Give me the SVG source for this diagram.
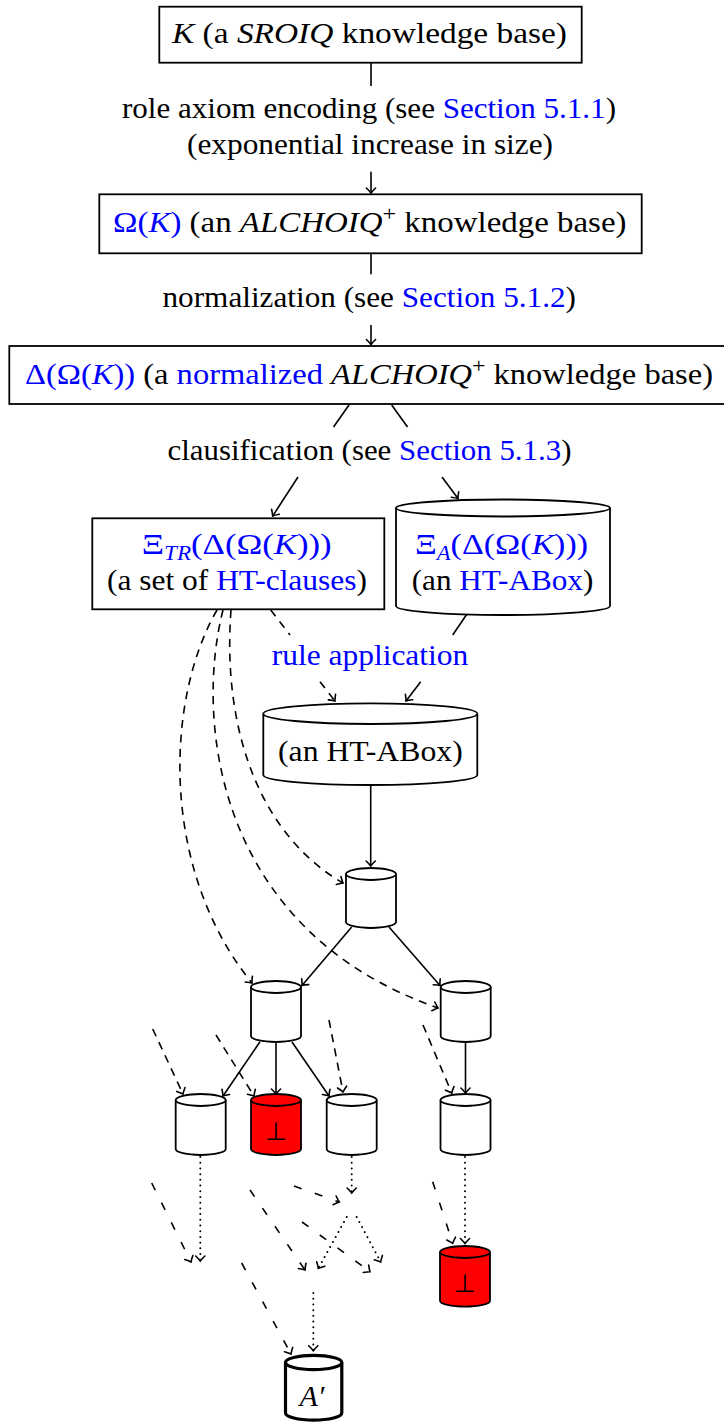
<svg xmlns="http://www.w3.org/2000/svg" width="724" height="1423" viewBox="0 0 724 1423">
<style>
.t{font-family:"Liberation Serif","Times New Roman",serif;font-size:30px;fill:#000}
.b{fill:#0000ff}
.i{font-style:italic}
.box{fill:#fff;stroke:#000;stroke-width:1.8}
.cyl{fill:#fff;stroke:#000;stroke-width:1.8}
.red{fill:#ff0000;stroke:#000;stroke-width:1.8}
.e{fill:none;stroke:#000;stroke-width:1.6}
.d{fill:none;stroke:#000;stroke-width:1.6;stroke-dasharray:8 6.5}
.ld{fill:none;stroke:#000;stroke-width:1.6;stroke-dasharray:8 14}
.o{fill:none;stroke:#000;stroke-width:2;stroke-dasharray:0.01 5.7;stroke-linecap:round}
.bot{font-family:"DejaVu Sans",sans-serif;font-size:25px;fill:#000}
</style>
<defs>
<marker id="ah" markerUnits="userSpaceOnUse" markerWidth="14" markerHeight="14" viewBox="-7 -7 14 14" refX="0" refY="0" orient="auto" overflow="visible">
<path d="M-5,-4.6 Q-1.7,-1.2 0,0 Q-1.7,1.2 -5,4.6" fill="none" stroke="#000" stroke-width="1.6" stroke-linecap="round" stroke-dasharray="none"/>
</marker>
</defs>

<g id="connectors">
<path class="e" d="M371,62.7 L371,86"/>
<path class="e" d="M371,171.7 L371,193" marker-end="url(#ah)"/>
<path class="e" d="M371,253.3 L371,274.3"/>
<path class="e" d="M371,325 L371,344.5" marker-end="url(#ah)"/>
<path class="e" d="M349,405 L333.5,427"/>
<path class="e" d="M298,477 L272.7,516" marker-end="url(#ah)"/>
<path class="e" d="M391.7,405 L407.5,427"/>
<path class="e" d="M442,477 L458,498.5" marker-end="url(#ah)"/>
<path class="d" d="M270.7,610 L290,635"/>
<path class="d" d="M320,681.7 L335,701" marker-end="url(#ah)"/>
<path class="e" d="M467,614 L452.7,635"/>
<path class="e" d="M420.7,681.7 L406,701" marker-end="url(#ah)"/>
<path class="e" d="M370.7,785 L370.7,866" marker-end="url(#ah)"/>
<path class="d" d="M217,610 C165,700 160,870 252,983" marker-end="url(#ah)"/>
<path class="d" d="M223,610 C195,720 215,930 438,1008" marker-end="url(#ah)"/>
<path class="d" d="M231,610 C222,730 260,835 343,883" marker-end="url(#ah)"/>
<path class="e" d="M351.7,927 L302,985.5" marker-end="url(#ah)"/>
<path class="e" d="M389,927 L440,985.5" marker-end="url(#ah)"/>
<path class="e" d="M260,1041.7 L223,1096" marker-end="url(#ah)"/>
<path class="e" d="M276,1042 L276,1094" marker-end="url(#ah)"/>
<path class="e" d="M292,1042 L329,1096" marker-end="url(#ah)"/>
<path class="e" d="M465.5,1042 L465.5,1093" marker-end="url(#ah)"/>
<path class="d" d="M152.7,1029 L183,1094" marker-end="url(#ah)"/>
<path class="d" d="M216,1035 L254,1096" marker-end="url(#ah)"/>
<path class="d" d="M329,1020 L343,1092" marker-end="url(#ah)"/>
<path class="d" d="M423,1025 L451.7,1093" marker-end="url(#ah)"/>
<path class="o" d="M200.3,1157 L200.3,1261" marker-end="url(#ah)"/>
<path class="ld" d="M151.7,1183 L191,1262" marker-end="url(#ah)"/>
<path class="o" d="M351.7,1157 L351.7,1193" marker-end="url(#ah)"/>
<path class="ld" d="M294,1186 L339.3,1202" marker-end="url(#ah)"/>
<path class="o" d="M346.7,1217 L318.3,1268.3" marker-end="url(#ah)"/>
<path class="o" d="M356.7,1217 L380.7,1262" marker-end="url(#ah)"/>
<path class="ld" d="M250,1190 L305,1270" marker-end="url(#ah)"/>
<path class="ld" d="M302,1222 L370,1271.7" marker-end="url(#ah)"/>
<path class="ld" d="M241.7,1263 L291,1354" marker-end="url(#ah)"/>
<path class="o" d="M313.3,1293 L313.3,1350.7" marker-end="url(#ah)"/>
<path class="o" d="M465,1157 L465,1243.5" marker-end="url(#ah)"/>
<path class="ld" d="M432.7,1181.7 L452.7,1243.3" marker-end="url(#ah)"/>
</g>

<g id="n-K">
<rect class="box" x="159.3" y="6.7" width="422.4" height="56"/>
<text class="t" x="172" y="43" textLength="395" lengthAdjust="spacingAndGlyphs"><tspan class="i">K</tspan> (a <tspan class="i">SROIQ</tspan> knowledge base)</text>
</g>

<g id="l-role">
<text class="t" x="122" y="118" textLength="494" lengthAdjust="spacingAndGlyphs">role axiom encoding (see <tspan class="b">Section 5.1.1</tspan>)</text>
<text class="t" x="187" y="153.5" textLength="366" lengthAdjust="spacingAndGlyphs">(exponential increase in size)</text>
</g>

<g id="n-Omega">
<rect class="box" x="99.3" y="194.3" width="542.4" height="59"/>
<text class="t" x="113" y="232" textLength="513.5" lengthAdjust="spacingAndGlyphs"><tspan class="b">Ω(<tspan class="i">K</tspan>)</tspan> (an <tspan class="i">ALCHOIQ</tspan><tspan dy="-11" font-size="22">+</tspan><tspan dy="11"> knowledge base)</tspan></text>
</g>

<g id="l-norm">
<text class="t" x="162.5" y="307" textLength="413.5" lengthAdjust="spacingAndGlyphs">normalization (see <tspan class="b">Section 5.1.2</tspan>)</text>
</g>

<g id="n-Delta">
<rect class="box" x="9.3" y="346" width="730" height="58"/>
<text class="t" x="25" y="384" textLength="688" lengthAdjust="spacingAndGlyphs"><tspan class="b">Δ(Ω(<tspan class="i">K</tspan>))</tspan> (a <tspan class="b">normalized</tspan> <tspan class="i">ALCHOIQ</tspan><tspan dy="-11" font-size="22">+</tspan><tspan dy="11"> knowledge base)</tspan></text>
</g>

<g id="l-claus">
<text class="t" x="167.5" y="459.5" textLength="404" lengthAdjust="spacingAndGlyphs">clausification (see <tspan class="b">Section 5.1.3</tspan>)</text>
</g>

<g id="n-XiTR">
<rect class="box" x="92.3" y="518.3" width="292" height="91"/>
<text class="t" x="141.7" y="554" textLength="190" lengthAdjust="spacingAndGlyphs"><tspan class="b">Ξ<tspan class="i" font-size="20" dy="6">TR</tspan><tspan dy="-6">(Δ(Ω(<tspan class="i">K</tspan>)))</tspan></tspan></text>
<text class="t" x="107" y="590" textLength="260" lengthAdjust="spacingAndGlyphs">(a set of <tspan class="b">HT-clauses</tspan>)</text>
</g>

<g id="n-XiA">
<path class="cyl" d="M396,508 A107,8.5 0 0 1 610,508 L610,606 A107,9 0 0 1 396,606 Z"/>
<path class="cyl" d="M396,508 A107,8.5 0 0 0 610,508" fill="none"/>
<text class="t" x="415" y="554" textLength="173" lengthAdjust="spacingAndGlyphs"><tspan class="b">Ξ<tspan class="i" font-size="20" dy="6">A</tspan><tspan dy="-6">(Δ(Ω(<tspan class="i">K</tspan>)))</tspan></tspan></text>
<text class="t" x="411.7" y="590" textLength="181.6" lengthAdjust="spacingAndGlyphs">(an <tspan class="b">HT-ABox</tspan>)</text>
</g>

<g id="l-rule">
<text class="t b" x="271.7" y="665" textLength="196.6" lengthAdjust="spacingAndGlyphs">rule application</text>
</g>

<g id="n-ABox">
<path class="cyl" d="M263.3,713.7 A107,10.3 0 0 1 477.3,713.7 L477.3,775 A107,10 0 0 1 263.3,775 Z"/>
<path class="cyl" d="M263.3,713.7 A107,10.3 0 0 0 477.3,713.7" fill="none"/>
<text class="t" x="278" y="761" textLength="184.7" lengthAdjust="spacingAndGlyphs">(an HT-ABox)</text>
</g>

<g id="n-c1">
<path class="cyl" d="M346,874 A25,6 0 0 1 396,874 L396,922 A25,6 0 0 1 346,922 Z"/>
<path class="cyl" d="M346,874 A25,6 0 0 0 396,874" fill="none"/>
</g>
<g id="n-c2">
<path class="cyl" d="M251,987 A25,6 0 0 1 301,987 L301,1036 A25,6 0 0 1 251,1036 Z"/>
<path class="cyl" d="M251,987 A25,6 0 0 0 301,987" fill="none"/>
</g>
<g id="n-c3">
<path class="cyl" d="M440.7,987 A25,6 0 0 1 490.7,987 L490.7,1036 A25,6 0 0 1 440.7,1036 Z"/>
<path class="cyl" d="M440.7,987 A25,6 0 0 0 490.7,987" fill="none"/>
</g>
<g id="n-c4">
<path class="cyl" d="M175.7,1100 A25,6 0 0 1 225.7,1100 L225.7,1149 A25,6 0 0 1 175.7,1149 Z"/>
<path class="cyl" d="M175.7,1100 A25,6 0 0 0 225.7,1100" fill="none"/>
</g>
<g id="n-c5">
<path class="red" d="M251,1100 A25,6 0 0 1 301,1100 L301,1149 A25,6 0 0 1 251,1149 Z"/>
<path class="red" d="M251,1100 A25,6 0 0 0 301,1100" fill="none"/>
<text class="bot" x="276" y="1140" text-anchor="middle">⊥</text>
</g>
<g id="n-c6">
<path class="cyl" d="M326.7,1100 A25,6 0 0 1 376.7,1100 L376.7,1149 A25,6 0 0 1 326.7,1149 Z"/>
<path class="cyl" d="M326.7,1100 A25,6 0 0 0 376.7,1100" fill="none"/>
</g>
<g id="n-c7">
<path class="cyl" d="M440.5,1100 A25,6 0 0 1 490.5,1100 L490.5,1149 A25,6 0 0 1 440.5,1149 Z"/>
<path class="cyl" d="M440.5,1100 A25,6 0 0 0 490.5,1100" fill="none"/>
</g>
<g id="n-c8">
<path class="red" d="M440,1252 A25,6 0 0 1 490,1252 L490,1300.7 A25,6 0 0 1 440,1300.7 Z"/>
<path class="red" d="M440,1252 A25,6 0 0 0 490,1252" fill="none"/>
<text class="bot" x="465" y="1292" text-anchor="middle">⊥</text>
</g>
<g id="n-Aprime">
<path d="M285.5,1362.5 A28,7 0 0 1 341.8,1362.5 L341.8,1413 A28,7 0 0 1 285.5,1413 Z" fill="#fff" stroke="#000" stroke-width="3.2"/>
<path d="M285.5,1362.5 A28,7 0 0 0 341.8,1362.5" fill="none" stroke="#000" stroke-width="3.2"/>
<text class="t i" x="312" y="1406" text-anchor="middle" font-size="28">A′</text>
</g>
</svg>
